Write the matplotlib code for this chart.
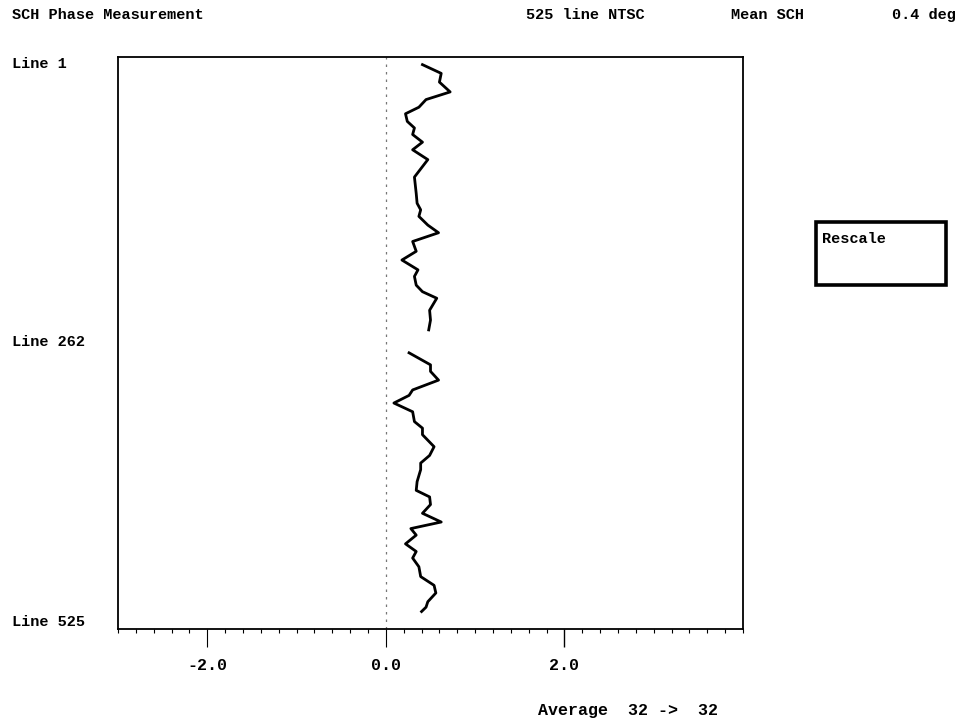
import matplotlib
matplotlib.use("Agg")
import matplotlib.pyplot as plt
from matplotlib.patches import Rectangle
from matplotlib.ticker import MultipleLocator

# ---- data ----
field1_lines = [8, 16, 24, 33, 40, 47, 53, 60, 66, 72, 79, 86, 95, 111, 126, 135, 141,
                147, 155, 162, 170, 179, 187, 196, 202, 210, 216, 222, 233, 242, 251]
field1_phase = [0.41, 0.62, 0.60, 0.72, 0.45, 0.37, 0.22, 0.24, 0.32, 0.30, 0.41, 0.30,
                0.47, 0.32, 0.34, 0.35, 0.39, 0.37, 0.47, 0.59, 0.30, 0.34, 0.18, 0.36,
                0.32, 0.34, 0.41, 0.57, 0.49, 0.50, 0.48]
field2_lines = [272, 283, 289, 297, 306, 311, 318, 326, 335, 341, 347, 358, 366, 373,
                379, 390, 398, 404, 411, 419, 427, 433, 439, 447, 454, 460, 468, 477,
                485, 492, 500, 505, 509]
field2_phase = [0.26, 0.50, 0.50, 0.59, 0.30, 0.26, 0.09, 0.30, 0.32, 0.41, 0.41, 0.54,
                0.49, 0.39, 0.39, 0.35, 0.34, 0.49, 0.50, 0.41, 0.62, 0.28, 0.34, 0.22,
                0.34, 0.30, 0.37, 0.39, 0.54, 0.56, 0.47, 0.45, 0.40]
y_tick_lines = [1, 262, 525]
y_tick_labels = ["Line 1", "Line 262", "Line 525"]
x_ticks = [-2.0, 0.0, 2.0]
x_tick_labels = ["-2.0", "0.0", "2.0"]
title_left = "SCH Phase Measurement"
title_mid = "525 line NTSC"
mean_label = "Mean SCH"
mean_value = "0.4 deg"
average_text = "Average  32 ->  32"
button_text = "Rescale"

FONT = ["Liberation Mono", "DejaVu Sans Mono"]

fig = plt.figure(figsize=(9.58, 7.19), dpi=100)
fig.patch.set_facecolor("white")
ax = fig.add_axes([118 / 958, 90 / 719, 625 / 958, 572 / 719])

ax.plot(field1_phase, field1_lines, color="black", lw=2.0, solid_joinstyle="round")
ax.plot(field2_phase, field2_lines, color="black", lw=2.0, solid_joinstyle="round")

ax.set_xlim(-3.0, 4.0)
ax.set_ylim(525, 1)

# zero reference line
ax.axvline(0.0, color="#777777", lw=0.9, ls=(0, (2, 4)))

for s in ax.spines.values():
    s.set_linewidth(1.3)
    s.set_color("black")

ax.set_xticks(x_ticks)
ax.set_xticklabels(x_tick_labels, fontfamily=FONT, fontweight="bold", fontsize=12)
ax.xaxis.set_minor_locator(MultipleLocator(0.2))
ax.tick_params(axis="x", which="major", direction="out", length=13, width=1.0, pad=8)
ax.tick_params(axis="x", which="minor", direction="out", length=3, width=0.8)
for val, t in zip(x_ticks, ax.xaxis.get_major_ticks()):
    if val <= 0:
        t.tick1line.set_color("#888888")
        t.tick1line.set_markeredgewidth(0.8)

ax.set_yticks(y_tick_lines)
ax.set_yticklabels(y_tick_labels, fontfamily=FONT, fontweight="bold", fontsize=11)
ax.tick_params(axis="y", length=0, pad=76)
labs = ax.get_yticklabels()
for lab, va in zip(labs, ["top", "center", "bottom"]):
    lab.set_horizontalalignment("left")
    lab.set_verticalalignment(va)

# header
kw = dict(fontfamily=FONT, fontweight="bold", fontsize=11, va="center")
fig.text(12 / 958, 1 - 15 / 719, title_left, ha="left", **kw)
fig.text(526 / 958, 1 - 15 / 719, title_mid, ha="left", **kw)
fig.text(731 / 958, 1 - 15 / 719, mean_label, ha="left", **kw)
fig.text(956 / 958, 1 - 15 / 719, mean_value, ha="right", **kw)

# bottom text
fig.text(538 / 958, 1 - 711 / 719, average_text, ha="left", fontfamily=FONT,
         fontweight="bold", fontsize=12, va="center")

# Rescale button
fig.patches.append(Rectangle((816 / 958, 1 - 285 / 719), 130 / 958, 63 / 719,
                             transform=fig.transFigure, fill=False, lw=2.6,
                             edgecolor="black"))
fig.text(822 / 958, 1 - 239 / 719, button_text, ha="left", va="center",
         fontfamily=FONT, fontweight="bold", fontsize=11)

fig.savefig("out.png", dpi=100)
